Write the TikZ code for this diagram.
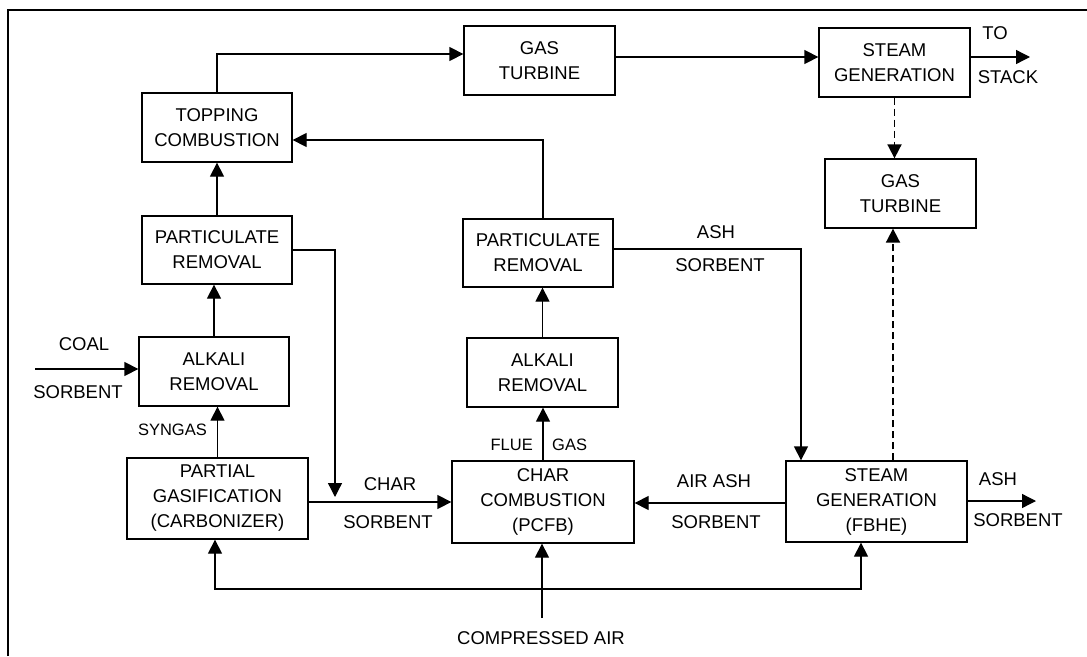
\documentclass[tikz,border=0pt]{standalone}
\usepackage{fontspec}
\setmainfont{Liberation Sans}
\usetikzlibrary{arrows.meta,calc}
\begin{document}
\begin{tikzpicture}[x=1pt,y=-1pt,
  box/.style={draw,line width=1.3pt,rectangle,inner sep=0pt,align=center,
    font=\fontsize{18.5}{25}\selectfont},
  lbl/.style={inner sep=0pt,font=\fontsize{18.5}{22}\selectfont},
  small/.style={inner sep=0pt,font=\fontsize{16.5}{20}\selectfont},
  flow/.style={line width=1.3pt,-{Triangle[length=14pt,width=14pt]}},
  both/.style={line width=1.3pt,{Triangle[length=14pt,width=14pt]}-{Triangle[length=14pt,width=14pt]}},
  dsh/.style={flow,line width=1.8pt,dash pattern=on 7pt off 4pt}]
\useasboundingbox (0,0) rectangle (1087,656);
% frame
\draw[line width=1.5pt] (8,656) -- (8,10) -- (1087,10);

% process blocks
\node[box,minimum width=150pt,minimum height=69pt] (top) at (217,127.5) {TOPPING\\COMBUSTION};
\node[box,minimum width=151pt,minimum height=69pt] (gt1) at (539.5,60.5) {GAS\\TURBINE};
\node[box,minimum width=151pt,minimum height=69pt] (sg1) at (894.5,62.5) {STEAM\\GENERATION};
\node[box,minimum width=151pt,minimum height=69pt] (gt2) at (900.5,193.5) {GAS\\TURBINE};
\node[box,minimum width=150pt,minimum height=68pt] (pr1) at (217,250) {PARTICULATE\\REMOVAL};
\node[box,minimum width=150pt,minimum height=69pt] (ar1) at (214,371.5) {ALKALI\\REMOVAL};
\node[box,minimum width=181pt,minimum height=81pt] (pg) at (217.5,498.5) {PARTIAL\\GASIFICATION\\(CARBONIZER)};
\node[box,minimum width=150pt,minimum height=68pt] (pr2) at (538,253) {PARTICULATE\\REMOVAL};
\node[box,minimum width=151pt,minimum height=69pt] (ar2) at (542.5,372.5) {ALKALI\\REMOVAL};
\node[box,minimum width=182pt,minimum height=82pt] (cc) at (543,502) {CHAR\\COMBUSTION\\(PCFB)};
\node[box,minimum width=181pt,minimum height=81pt] (fb) at (876.5,501.5) {STEAM\\GENERATION\\(FBHE)};

% free ends and junctions
\coordinate (coal) at (35,369);
\coordinate (stack) at (1030,57);
\coordinate (ashout) at (1036,501);
\coordinate (air) at (542,618);
\coordinate (loop) at (542,589);
\coordinate (drop) at (335,497);

% gas path
\draw[flow] (top.north) |- ([yshift=6.5pt]gt1.west);
\draw[flow] ([yshift=3.5pt]gt1.east) -- ([yshift=3.5pt]gt1.east -| sg1.west);
\draw[flow] ([yshift=5.5pt]sg1.east) -- (stack);
\node[lbl] (to) at (995,33) {TO};
\node[lbl] (stk) at (1008,77) {STACK};
\draw[dsh] (sg1.south) -- (sg1.south |- gt2.north);
\draw[dsh] ([xshift=16.5pt]fb.north) -- ([xshift=16.5pt]fb.north |- gt2.south);

% carbonizer train
\draw[flow] (pg.north) -- (pg.north |- ar1.south);
\node[small,anchor=east] (syn) at (207,430) {SYNGAS};
\draw[flow] (ar1.north) -- (ar1.north |- pr1.south);
\draw[flow] (pr1.north) -- (top.south);
\draw[flow] (coal) -- (coal -| ar1.west);
\node[lbl] (coallbl) at (84,344) {COAL};
\node[lbl] (sorb1) at (78,392) {SORBENT};
\draw[flow] (pr1.east) -| (drop);
\draw[flow] ([yshift=-3.5pt]pg.east) -- ([yshift=-3.5pt]pg.east -| cc.west);
\node[lbl] (char) at (390,484) {CHAR};
\node[lbl] (sorb2) at (388,522) {SORBENT};

% combustor train
\draw[flow] (cc.north) -- (cc.north |- ar2.south);
\node[small,anchor=east] (flue) at (533,445) {FLUE};
\node[small,anchor=west] (gas) at (552,445) {GAS};
\draw[flow] (ar2.north) -- (ar2.north |- pr2.south);
\draw[flow] ([xshift=5pt]pr2.north) |- ([yshift=-12.5pt]top.east);
\draw[flow] ([yshift=4pt]pr2.east) -| ([xshift=-75.5pt]fb.north);
\node[lbl] (ash1) at (716,232) {ASH};
\node[lbl] (sorb3) at (720,265) {SORBENT};

% heat exchanger
\draw[flow] ([yshift=-1.5pt]fb.west) -- ([yshift=-1.5pt]fb.west -| cc.east);
\node[lbl] (airash) at (714,481) {AIR ASH};
\node[lbl] (sorb4) at (716,522) {SORBENT};
\draw[flow] (fb.east |- ashout) -- (ashout);
\node[lbl] (ash2) at (998,479) {ASH};
\node[lbl] (sorb5) at (1018,520) {SORBENT};

% compressed air
\draw[flow] (air) -- (air |- cc.south);
\draw[both] ([xshift=-2.5pt]pg.south) |- (loop) -| ([xshift=-15.5pt]fb.south);
\node[lbl] (airlbl) at (541,638) {COMPRESSED AIR};
\end{tikzpicture}
\end{document}
